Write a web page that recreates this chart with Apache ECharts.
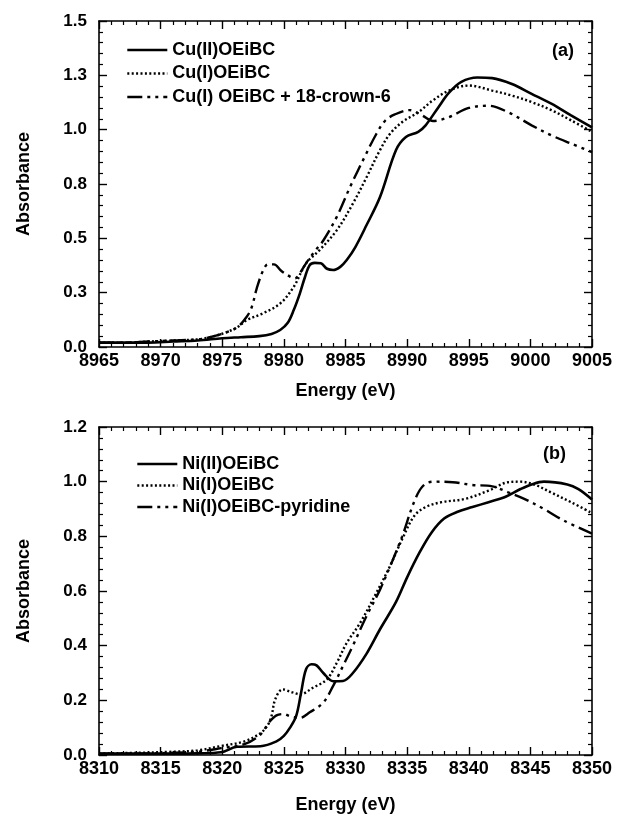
<!DOCTYPE html>
<html>
<head>
<meta charset="utf-8">
<script src="https://cdn.jsdelivr.net/npm/echarts/dist/echarts.min.js"></script>
<style>
html,body{margin:0;padding:0;background:#fff;}
#chart{width:619px;height:815px;}
</style>
</head>
<body>
<div id="chart"></div>
<script>
// Cu K-edge XANES, panel (a)
const cuSeriesNames = ['Cu(II)OEiBC', 'Cu(I)OEiBC', 'Cu(I) OEiBC + 18-crown-6'];
const cuYTickLabels = ['0.0', '0.3', '0.5', '0.8', '1.0', '1.3', '1.5'];

const cu2Energy = [8965, 8967, 8969, 8971, 8973, 8975, 8976.5, 8978, 8979, 8979.7, 8980.3, 8980.8, 8981.3, 8981.7, 8982.1, 8982.5, 8983, 8983.5, 8984, 8984.6, 8985.1, 8985.8, 8986.7, 8987.8, 8989.1, 8989.9, 8990.9, 8991.5, 8992.5, 8993.4, 8994.4, 8995.7, 8996.9, 8998.5, 9000.1, 9001.7, 9003.3, 9005];
const cu2Abs = [0.02, 0.02, 0.02, 0.025, 0.03, 0.04, 0.045, 0.05, 0.06, 0.078, 0.11, 0.17, 0.247, 0.32, 0.377, 0.387, 0.385, 0.36, 0.354, 0.37, 0.40, 0.46, 0.56, 0.69, 0.906, 0.966, 0.99, 1.02, 1.10, 1.17, 1.22, 1.24, 1.237, 1.21, 1.165, 1.12, 1.066, 1.01];

const cu1Energy = [8965, 8967, 8969, 8971, 8973, 8974, 8975.2, 8976.2, 8977.0, 8978.3, 8979.7, 8980.8, 8981.8, 8982.9, 8984.3, 8985.6, 8986.7, 8987.8, 8988.6, 8989.6, 8990.9, 8992.1, 8993.4, 8995, 8996.9, 8998.5, 9000.1, 9001.7, 9003.3, 9005];
const cu1Abs = [0.02, 0.02, 0.025, 0.03, 0.035, 0.045, 0.065, 0.09, 0.124, 0.155, 0.20, 0.277, 0.385, 0.446, 0.538, 0.66, 0.78, 0.906, 0.98, 1.035, 1.08, 1.135, 1.18, 1.203, 1.18, 1.157, 1.127, 1.09, 1.043, 0.99];

const cuCrownEnergy = [8965, 8967, 8969, 8971, 8973, 8974, 8975.2, 8976.2, 8977.0, 8977.4, 8977.8, 8978.3, 8978.7, 8979.2, 8979.8, 8980.5, 8980.9, 8981.3, 8981.8, 8982.5, 8983.2, 8984.3, 8985.4, 8986.6, 8987.5, 8988.2, 8989, 8990.2, 8991.2, 8992.1, 8993.4, 8995, 8996.6, 8998.2, 9000.1, 9001.7, 9003.3, 9005];
const cuCrownAbs = [0.02, 0.02, 0.025, 0.03, 0.035, 0.045, 0.065, 0.09, 0.14, 0.185, 0.27, 0.35, 0.38, 0.38, 0.35, 0.324, 0.316, 0.34, 0.385, 0.44, 0.49, 0.60, 0.74, 0.88, 0.98, 1.04, 1.07, 1.09, 1.066, 1.04, 1.058, 1.10, 1.11, 1.08, 1.02, 0.974, 0.936, 0.897];

// Ni K-edge XANES, panel (b)
const niSeriesNames = ['Ni(II)OEiBC', 'Ni(I)OEiBC', 'Ni(I)OEiBC-pyridine'];
const niYTickLabels = ['0.0', '0.2', '0.4', '0.6', '0.8', '1.0', '1.2'];

const ni2Energy = [8310, 8313, 8316, 8318, 8319.9, 8321.2, 8323.1, 8324.4, 8325, 8325.5, 8326.0, 8326.4, 8326.8, 8327.25, 8327.65, 8328.2, 8329.0, 8329.8, 8330.6, 8331.7, 8332.8, 8334.1, 8335.0, 8336.0, 8337, 8338, 8339.1, 8340.3, 8341.6, 8342.9, 8344.2, 8345.1, 8346.1, 8348, 8348.9, 8350];
const ni2Abs = [0.005, 0.005, 0.005, 0.006, 0.01, 0.03, 0.032, 0.05, 0.07, 0.10, 0.143, 0.229, 0.314, 0.332, 0.328, 0.30, 0.27, 0.271, 0.30, 0.37, 0.46, 0.56, 0.65, 0.74, 0.815, 0.865, 0.89, 0.907, 0.925, 0.943, 0.973, 0.99, 1.0, 0.99, 0.973, 0.935];

const ni1Energy = [8310, 8313, 8316, 8318, 8319.9, 8321.8, 8323.1, 8323.7, 8324.0, 8324.3, 8324.9, 8325.7, 8326.3, 8327.4, 8328.5, 8329.3, 8330.1, 8331.2, 8332.5, 8333.6, 8334.6, 8335.6, 8336.5, 8337.8, 8339.7, 8341.6, 8343.2, 8344.2, 8345.4, 8346.7, 8348.3, 8350];
const ni1Abs = [0.005, 0.008, 0.012, 0.017, 0.033, 0.05, 0.08, 0.11, 0.143, 0.204, 0.24, 0.229, 0.222, 0.247, 0.277, 0.338, 0.41, 0.484, 0.593, 0.69, 0.79, 0.876, 0.907, 0.925, 0.937, 0.967, 0.998, 1.0, 0.988, 0.96, 0.925, 0.885];

const niPyEnergy = [8310, 8313, 8316, 8318, 8319.9, 8321.8, 8323.1, 8323.8, 8324.4, 8325.0, 8325.5, 8326.3, 8327.1, 8328.2, 8329.0, 8329.8, 8330.6, 8331.7, 8332.8, 8333.8, 8334.6, 8335.6, 8336.3, 8337.1, 8338.7, 8340.3, 8341.9, 8343.2, 8344.5, 8346.1, 8347.7, 8350];
const niPyAbs = [0.005, 0.005, 0.008, 0.012, 0.025, 0.04, 0.075, 0.12, 0.145, 0.15, 0.142, 0.136, 0.156, 0.192, 0.253, 0.326, 0.40, 0.508, 0.605, 0.71, 0.80, 0.93, 0.985, 1.0, 0.998, 0.988, 0.983, 0.961, 0.937, 0.9, 0.858, 0.81];

const FONT = 'Liberation Sans, Arial, Helvetica, sans-serif';
const INK = '#000';
const WEIGHT = 'bold';

const pairs = (xs, ys) => xs.map((x, i) => [x, ys[i]]);

function xAxisPair(gridIndex, min, max, nameGap) {
  const common = {
    type: 'value', gridIndex, min, max, interval: 5,
    axisLine: { show: true, onZero: false, lineStyle: { color: INK, width: 1.6 } },
    axisTick: { show: true, inside: true, length: 8, lineStyle: { color: INK, width: 1.4 } },
    minorTick: { show: true, splitNumber: 5, length: 4, lineStyle: { color: INK, width: 1.2 } },
    splitLine: { show: false }, minorSplitLine: { show: false }
  };
  return [
    Object.assign({}, common, {
      position: 'bottom',
      axisLabel: {
        color: INK, fontSize: 18, fontFamily: FONT, fontWeight: WEIGHT, margin: 5,
        formatter: v => String(v)
      },
      name: 'Energy (eV)', nameLocation: 'middle', nameGap,
      nameTextStyle: { color: INK, fontSize: 18, fontFamily: FONT, fontWeight: WEIGHT }
    }),
    Object.assign({}, common, { position: 'top', axisLabel: { show: false } })
  ];
}

function yAxisPair(gridIndex, max, interval, labels) {
  const common = {
    type: 'value', gridIndex, min: 0, max, interval,
    axisLine: { show: true, onZero: false, lineStyle: { color: INK, width: 1.6 } },
    axisTick: { show: true, inside: true, length: 8, lineStyle: { color: INK, width: 1.4 } },
    minorTick: { show: true, splitNumber: 5, length: 4, lineStyle: { color: INK, width: 1.2 } },
    splitLine: { show: false }, minorSplitLine: { show: false }
  };
  return [
    Object.assign({}, common, {
      position: 'left',
      axisLabel: {
        color: INK, fontSize: 17, fontFamily: FONT, fontWeight: WEIGHT, margin: 12,
        formatter: v => labels[Math.round(v / interval)]
      },
      name: 'Absorbance', nameLocation: 'middle', nameGap: 66, nameRotate: 90,
      nameTextStyle: { color: INK, fontSize: 18, fontFamily: FONT, fontWeight: WEIGHT }
    }),
    Object.assign({}, common, { position: 'right', axisLabel: { show: false } })
  ];
}

const solid = { color: INK, width: 2.6, type: 'solid' };
const dotted = { color: INK, width: 2.4, type: [2, 2.4] };
const dashDot = { color: INK, width: 2.4, type: [15, 5, 3, 5, 3, 5] };

function curve(name, xs, ys, axisIdx, style) {
  return {
    name, type: 'line', xAxisIndex: axisIdx, yAxisIndex: axisIdx,
    data: pairs(xs, ys), symbol: 'none', showSymbol: false,
    smooth: 0.35,
    lineStyle: style, itemStyle: { color: INK }, emphasis: { disabled: true }
  };
}

const legendText = { color: INK, fontSize: 18, fontFamily: FONT, fontWeight: WEIGHT };
const legendLine = { width: 2.6, color: 'inherit', type: 'inherit' };

const option = {
  animation: false,
  backgroundColor: '#fff',
  grid: [
    { left: 99, right: 27, top: 21, height: 326 },
    { left: 99, right: 27, top: 427, height: 329 }
  ],
  xAxis: [...xAxisPair(0, 8965, 9005, 35), ...xAxisPair(1, 8310, 8350, 41)],
  yAxis: [...yAxisPair(0, 1.5, 0.25, cuYTickLabels), ...yAxisPair(1, 1.2, 0.2, niYTickLabels)],
  legend: [
    {
      data: cuSeriesNames, orient: 'vertical', left: 121, top: 36,
      itemWidth: 40, itemHeight: 14, itemGap: 5.5, selectedMode: false,
      itemStyle: { opacity: 0 }, lineStyle: legendLine,
      textStyle: legendText
    },
    {
      data: niSeriesNames, orient: 'vertical', left: 131, top: 450,
      itemWidth: 40, itemHeight: 14, itemGap: 3.5, selectedMode: false,
      itemStyle: { opacity: 0 }, lineStyle: legendLine,
      textStyle: legendText
    }
  ],
  graphic: [
    { type: 'text', left: 552, top: 42, style: { text: '(a)', fill: INK, font: 'bold 18px ' + FONT } },
    { type: 'text', left: 543, top: 445, style: { text: '(b)', fill: INK, font: 'bold 18px ' + FONT } }
  ],
  series: [
    curve(cuSeriesNames[0], cu2Energy, cu2Abs, 0, solid),
    curve(cuSeriesNames[1], cu1Energy, cu1Abs, 0, dotted),
    curve(cuSeriesNames[2], cuCrownEnergy, cuCrownAbs, 0, dashDot),
    curve(niSeriesNames[0], ni2Energy, ni2Abs, 2, solid),
    curve(niSeriesNames[1], ni1Energy, ni1Abs, 2, dotted),
    curve(niSeriesNames[2], niPyEnergy, niPyAbs, 2, dashDot)
  ]
};

const chart = echarts.init(document.getElementById('chart'), null, { renderer: 'canvas' });
chart.setOption(option);
</script>
</body>
</html>
